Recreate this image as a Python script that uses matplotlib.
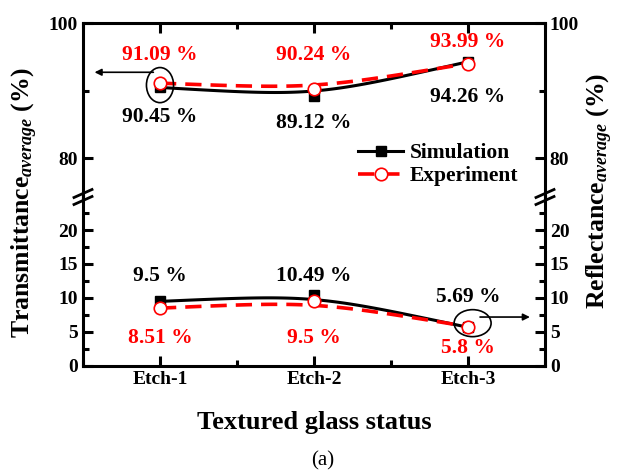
import numpy as np
import matplotlib
matplotlib.use("Agg")
from matplotlib import pyplot as plt
from matplotlib.patches import Ellipse
from matplotlib.lines import Line2D
from matplotlib.ticker import MultipleLocator

plt.rcParams['font.family'] = ['Liberation Serif', 'DejaVu Serif']
plt.rcParams['font.weight'] = 'bold'
plt.rcParams['mathtext.fontset'] = 'custom'
plt.rcParams['mathtext.it'] = 'Liberation Serif:italic'
plt.rcParams['mathtext.rm'] = 'Liberation Serif'

ETAPAS = ["Etch-1", "Etch-2", "Etch-3"]
T_SIM = [90.45, 89.12, 94.26]
T_EXP = [91.09, 90.24, 93.99]
R_SIM = [9.5, 10.49, 5.69]
R_EXP = [8.51, 9.5, 5.8]

# texto de cada punto y su altura
T_SIM_Y = [86.1, 85.2, 89.0]
T_EXP_Y = [95.3, 95.3, 97.2]
R_SIM_Y = [13.3, 13.3, 10.1]
R_EXP_Y = [4.1, 4.1, 2.6]
T_SIM_TXT = ["90.45 %", "89.12 %", "94.26 %"]
T_EXP_TXT = ["91.09 %", "90.24 %", "93.99 %"]
R_SIM_TXT = ["9.5 %", "10.49 %", "5.69 %"]
R_EXP_TXT = ["8.51 %", "9.5 %", "5.8 %"]

X = np.arange(1, len(ETAPAS) + 1)


def curva(x, y, n=100):
    # bezier cubica con el punto central repetido (suavizado tipo B-spline)
    t = np.linspace(0, 1, n)[:, None]
    p0 = np.array([x[0], y[0]])
    p1 = np.array([x[1], y[1]])
    p2 = np.array([x[2], y[2]])
    pts = (1 - t)**3 * p0 + 3 * (1 - t)**2 * t * p1 + 3 * (1 - t) * t**2 * p1 + t**3 * p2
    return pts[:, 0], pts[:, 1]


W, H = 619, 474
fig = plt.figure(figsize=(W / 100, H / 100), dpi=100)

izq, der = 83, 545
arriba, corte, abajo = 23, 197, 366
ax_t = fig.add_axes([izq / W, 1 - corte / H, (der - izq) / W, (corte - arriba) / H])
ax_b = fig.add_axes([izq / W, 1 - abajo / H, (der - izq) / W, (abajo - corte) / H])

ax_t.set_ylim(100 - (corte - arriba) / 6.75, 100)
ax_b.set_ylim(0, (abajo - corte) / 6.8)

LW = 2.2
for ax in (ax_t, ax_b):
    ax.set_xlim(0.5, 3.5)
    for s in ax.spines.values():
        s.set_linewidth(LW)
    ax.tick_params(which='both', direction='in', left=True, right=True,
                   top=True, bottom=True, labelleft=True, labelright=True,
                   labelsize=14, width=LW)
    ax.tick_params(which='major', length=7)
    ax.tick_params(which='minor', length=4)
    ax.set_xticks(X)
    ax.xaxis.set_minor_locator(MultipleLocator(0.5))

ax_t.spines['bottom'].set_visible(False)
ax_b.spines['top'].set_visible(False)
ax_t.tick_params(which='both', bottom=False, labelbottom=False)
ax_b.tick_params(which='both', top=False)
ax_b.set_xticklabels(ETAPAS)

ax_t.yaxis.set_major_locator(MultipleLocator(20))
ax_t.yaxis.set_minor_locator(MultipleLocator(10))
ax_b.yaxis.set_major_locator(MultipleLocator(5))
ax_b.yaxis.set_minor_locator(MultipleLocator(2.5))

# curvas y puntos
for ax, sim, exp in ((ax_t, T_SIM, T_EXP), (ax_b, R_SIM, R_EXP)):
    xs, ys = curva(X, sim)
    ax.plot(xs, ys, color='black', lw=2.2, zorder=3)
    xe, ye = curva(X, exp)
    ax.plot(xe, ye, color='red', lw=2.6, dashes=(4.5, 2.5), zorder=4)
    ax.plot(X, sim, ls='none', marker='s', ms=7, color='black', zorder=5)
    ax.plot(X, exp, ls='none', marker='o', ms=9, mfc='white', mec='red',
            mew=1.2, zorder=6)

# etiquetas de valores
for i in range(3):
    ax_t.text(X[i], T_SIM_Y[i], T_SIM_TXT[i], ha='center', va='center',
              fontsize=15.5, color='black')
    ax_t.text(X[i], T_EXP_Y[i], T_EXP_TXT[i], ha='center', va='center',
              fontsize=15.5, color='red')
    ax_b.text(X[i], R_SIM_Y[i], R_SIM_TXT[i], ha='center', va='center',
              fontsize=15.5, color='black')
    ax_b.text(X[i], R_EXP_Y[i], R_EXP_TXT[i], ha='center', va='center',
              fontsize=15.5, color='red')

# elipses y flechas
ax_t.add_patch(Ellipse((1.0, 90.8), 0.176, 5.2, fill=False, lw=1.2,
                       color='black', zorder=7))
ax_t.annotate("", xy=(0.557, 92.7), xytext=(0.975, 92.7),
              arrowprops=dict(arrowstyle='-|>', color='black', lw=1.2,
                              mutation_scale=10))
ax_b.add_patch(Ellipse((3.03, 6.3), 0.24, 3.97, fill=False, lw=1.2,
                       color='black', zorder=7))
ax_b.annotate("", xy=(3.42, 7.2), xytext=(3.06, 7.2),
              arrowprops=dict(arrowstyle='-|>', color='black', lw=1.2,
                              mutation_scale=10))

# marcas de corte del eje
for xp in (izq, der):
    for dy in (-3.5, 3.5):
        y0 = corte + dy
        fig.add_artist(Line2D([(xp - 9) / W, (xp + 9) / W],
                              [1 - (y0 + 4) / H, 1 - (y0 - 4) / H],
                              color='black', lw=2.0))
    fig.add_artist(Line2D([xp / W, xp / W], [1 - (corte + 1) / H, 1 - (corte - 1) / H],
                          color='black', lw=LW))

leyenda = [Line2D([], [], color='black', lw=2.2, marker='s', ms=7),
           Line2D([], [], color='red', lw=2.6, dashes=(4.5, 2.5), marker='o',
                  ms=9, mfc='white', mec='red', mew=1.2)]
fig.legend(leyenda, ["Simulation", "Experiment"], loc='upper left',
           bbox_to_anchor=(358 / W, 1 - 143 / H), frameon=False,
           fontsize=15.5, handlelength=2.1, handletextpad=0.3,
           labelspacing=0.15, borderpad=0, borderaxespad=0)

fig.text(25 / W, 1 - 203 / H, r"Transmittance$_{\mathit{average}}$ (%)",
         rotation=90, ha='center', va='center', fontsize=18.5)
fig.text(600 / W, 1 - 191 / H, r"Reflectance$_{\mathit{average}}$ (%)",
         rotation=90, ha='center', va='center', fontsize=18.5)
fig.text(314 / W, 1 - 422 / H, "Textured glass status", ha='center',
         va='center', fontsize=19)
fig.text(323 / W, 1 - 461 / H, "(a)", ha='center', va='center',
         fontsize=15, fontweight='normal')

fig.savefig("out.png", dpi=100)
